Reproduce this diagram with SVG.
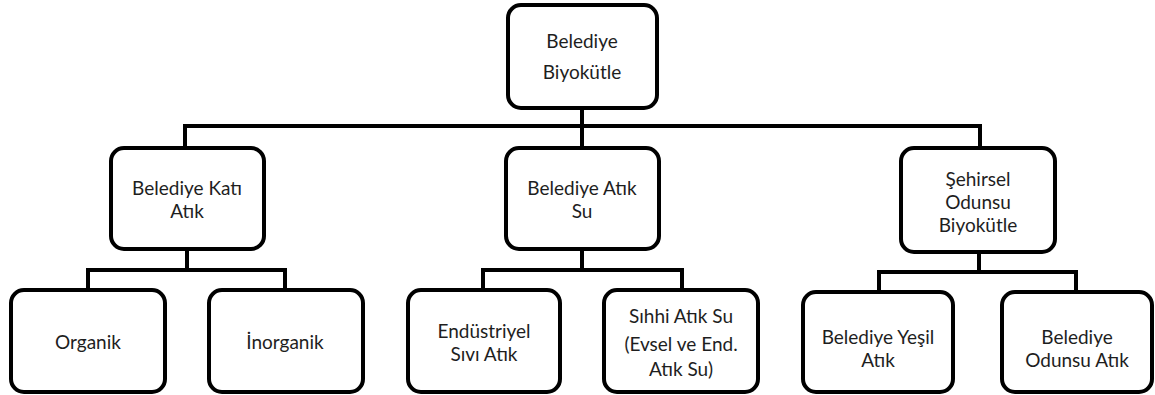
<svg xmlns="http://www.w3.org/2000/svg" width="1155" height="395" viewBox="0 0 1155 395">
  <style>
    .box { fill: #ffffff; stroke: #000000; stroke-width: 4; }
    .wire { fill: none; stroke: #000000; stroke-width: 4; stroke-linejoin: miter; }
    text { font-family: "Lato", "Open Sans", sans-serif; font-size: 19px; fill: #1e1e1e; text-anchor: middle; }
  </style>
  <rect width="1155" height="395" fill="#ffffff"/>

  <!-- connectors -->
  <g id="connectors">
    <path class="wire" d="M582 108 V148 M185 148 V126 H980 V148"/>
    <path class="wire" d="M187 249 V270 M88 290 V270 H285 V290"/>
    <path class="wire" d="M582 249 V270 M483 290 V270 H682 V290"/>
    <path class="wire" d="M979 252 V272 M879 292 V272 H1076 V292"/>
  </g>

  <!-- root -->
  <g id="belediye-biyokutle">
    <rect class="box" x="508" y="5" width="149" height="103" rx="13"/>
    <text x="582" y="48">Belediye</text>
    <text x="582" y="79">Biyokütle</text>
  </g>

  <!-- level 2 -->
  <g id="belediye-kati-atik">
    <rect class="box" x="111" y="148" width="153" height="101" rx="13"/>
    <text x="187" y="195">Belediye Katı</text>
    <text x="187" y="218">Atık</text>
  </g>
  <g id="belediye-atik-su">
    <rect class="box" x="506" y="148" width="153" height="101" rx="13"/>
    <text x="582" y="195">Belediye Atık</text>
    <text x="582" y="218">Su</text>
  </g>
  <g id="sehirsel-odunsu-biyokutle">
    <rect class="box" x="901" y="148" width="154" height="104" rx="13"/>
    <text x="978" y="186">Şehirsel</text>
    <text x="978" y="209">Odunsu</text>
    <text x="978" y="232">Biyokütle</text>
  </g>

  <!-- level 3 -->
  <g id="organik">
    <rect class="box" x="11" y="290" width="154" height="102" rx="13"/>
    <text x="88" y="349">Organik</text>
  </g>
  <g id="inorganik">
    <rect class="box" x="209" y="290" width="154" height="102" rx="13"/>
    <text x="285" y="349">İnorganik</text>
  </g>
  <g id="endustriyel-sivi-atik">
    <rect class="box" x="408" y="290" width="152" height="102" rx="13"/>
    <text x="484" y="338">Endüstriyel</text>
    <text x="484" y="361">Sıvı Atık</text>
  </g>
  <g id="sihhi-atik-su">
    <rect class="box" x="604" y="290" width="154" height="102" rx="13"/>
    <text x="681" y="323">Sıhhi Atık Su</text>
    <text x="681" y="351">(Evsel ve End.</text>
    <text x="681" y="376">Atık Su)</text>
  </g>
  <g id="belediye-yesil-atik">
    <rect class="box" x="803" y="292" width="150" height="100" rx="13"/>
    <text x="878" y="344">Belediye Yeşil</text>
    <text x="878" y="367">Atık</text>
  </g>
  <g id="belediye-odunsu-atik">
    <rect class="box" x="1002" y="292" width="150" height="100" rx="13"/>
    <text x="1077" y="344">Belediye</text>
    <text x="1077" y="367">Odunsu Atık</text>
  </g>
</svg>
